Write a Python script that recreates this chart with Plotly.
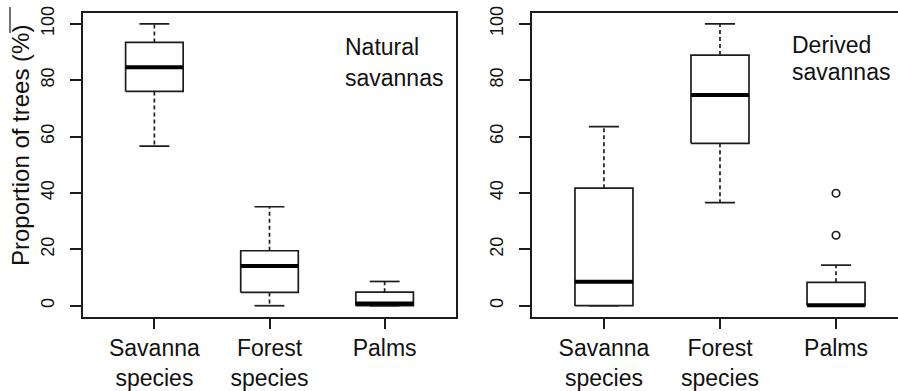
import plotly.graph_objects as go

# ---------------- data ----------------
categories = ["Savanna<br>species", "Forest<br>species", "Palms"]
positions = [1, 2, 3]

nat_lower = [56.6, 0.0, 0.0]
nat_q1 = [76.0, 4.7, 0.0]
nat_median = [84.6, 14.1, 0.8]
nat_q3 = [93.4, 19.5, 4.8]
nat_upper = [100.0, 35.1, 8.6]
nat_out_x = []
nat_out_y = []

der_lower = [0.0, 36.6, 0.0]
der_q1 = [0.0, 57.6, 0.0]
der_median = [8.5, 74.7, 0.2]
der_q3 = [41.7, 88.9, 8.3]
der_upper = [63.5, 100.0, 14.4]
der_out_x = [3, 3]
der_out_y = [39.9, 25.0]

y_ticks = [0, 20, 40, 60, 80, 100]
y_title = "Proportion of trees (%)"
panel_labels = [["Natural", "savannas"], ["Derived", "savannas"]]

# ---------------- style ----------------
INK = "#1c1c1c"
FONT = "Liberation Sans, Arial, Helvetica, sans-serif"
HALF = 0.25      # half box width (x units)
CAP = 0.13       # half staple width
W, H = 898, 391

fig = go.Figure()


def add_boxes(xref, yref, lower, q1, med, q3, upper, ox, oy):
    bx, by, mx, my, wx, wy, cx, cy = [], [], [], [], [], [], [], []
    for p, lo, a, m, b, up in zip(positions, lower, q1, med, q3, upper):
        bx += [p - HALF, p + HALF, p + HALF, p - HALF, p - HALF, None]
        by += [a, a, b, b, a, None]
        mx += [p - HALF, p + HALF, None]
        my += [m, m, None]
        wx += [p, p, None, p, p, None]
        wy += [b, up, None, a, lo, None]
        cx += [p - CAP, p + CAP, None, p - CAP, p + CAP, None]
        cy += [up, up, None, lo, lo, None]
    common = dict(xaxis=xref, yaxis=yref, showlegend=False, hoverinfo="skip")
    fig.add_trace(go.Scatter(x=wx, y=wy, mode="lines",
                             line=dict(color=INK, width=1.7, dash="4px,3px"), **common))
    fig.add_trace(go.Scatter(x=cx, y=cy, mode="lines",
                             line=dict(color=INK, width=1.7), **common))
    fig.add_trace(go.Scatter(x=bx, y=by, mode="lines", fill="toself",
                             fillcolor="white", line=dict(color=INK, width=1.7), **common))
    fig.add_trace(go.Scatter(x=mx, y=my, mode="lines",
                             line=dict(color="#000", width=4), **common))
    if ox:
        fig.add_trace(go.Scatter(x=ox, y=oy, mode="markers",
                                 marker=dict(symbol="circle-open", size=7.5, color=INK,
                                             line=dict(width=1.7)), **common))


add_boxes("x", "y", nat_lower, nat_q1, nat_median, nat_q3, nat_upper, nat_out_x, nat_out_y)
add_boxes("x2", "y2", der_lower, der_q1, der_median, der_q3, der_upper, der_out_x, der_out_y)

y_dom = [(H - 317) / H, (H - 12.5) / H]

xcommon = dict(range=[0.38, 3.62], tickvals=positions, ticktext=categories,
               ticks="outside", ticklen=10, tickwidth=1.6, tickcolor=INK,
               showline=True, linecolor=INK, linewidth=1.6, mirror=True,
               showgrid=False, zeroline=False,
               tickfont=dict(family=FONT, size=23, color="#111"))
ycommon = dict(range=[-4, 104], tickvals=y_ticks, ticktext=[str(v) for v in y_ticks],
               tickangle=-90, ticks="outside", ticklen=11, tickwidth=1.6, tickcolor=INK,
               showline=True, linecolor=INK, linewidth=1.6,
               showgrid=False, zeroline=False, domain=y_dom, ticklabelstandoff=9,
               tickfont=dict(family=FONT, size=18, color="#111"))

fig.update_layout(
    width=W, height=H,
    margin=dict(l=0, r=0, t=0, b=0),
    template="none",
    plot_bgcolor="white", paper_bgcolor="white",
    font=dict(family=FONT, color="#111"),
    xaxis=dict(domain=[83 / W, 456 / W], anchor="y", **xcommon),
    yaxis=dict(anchor="x", mirror=True, **ycommon),
    xaxis2=dict(domain=[532 / W, 1.0], anchor="y2",
                **{**xcommon, "range": [0.38, 3.534]}),
    yaxis2=dict(anchor="x2", mirror=False, **ycommon),
)

# y-axis title (placed where it sits in the original)
fig.add_annotation(text=y_title, xref="paper", yref="paper",
                   x=20 / W, y=1 - 146 / H, xanchor="center", yanchor="middle",
                   textangle=-90, showarrow=False,
                   font=dict(family=FONT, size=24, color="#111"))

# panel labels
ann_pos = [(343, [47, 78]), (790, [45, 72])]
for (px, pys), lines in zip(ann_pos, panel_labels):
    for txt, py in zip(lines, pys):
        fig.add_annotation(text=txt, xref="paper", yref="paper",
                           x=px / W, y=1 - py / H, xanchor="left", yanchor="middle",
                           showarrow=False,
                           font=dict(family=FONT, size=23, color="#111"))

# small leftover border fragment at top-left of the original figure
fig.add_shape(type="line", xref="paper", yref="paper",
              x0=10 / W, x1=10 / W, y0=1 - 7 / H, y1=1 - 33 / H,
              line=dict(color="#444", width=1.5))

fig.write_html("out.html")
